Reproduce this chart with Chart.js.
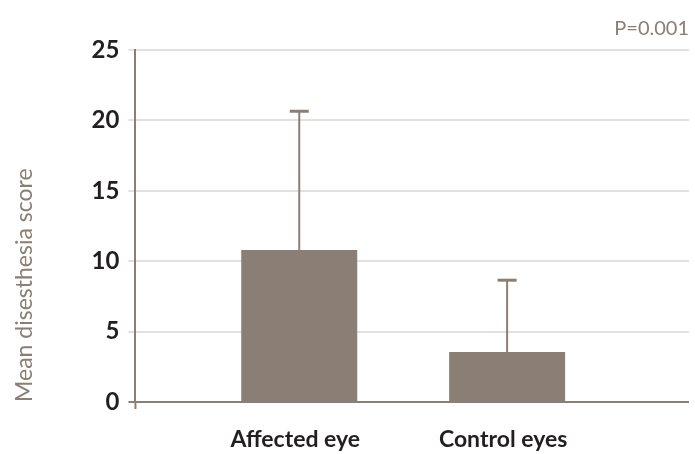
<!DOCTYPE html>
<html>
<head>
<meta charset="utf-8">
<script src="https://cdn.jsdelivr.net/npm/chart.js@4"></script>
<style>
  body { margin: 0; background: #fff; }
  #wrap { width: 695px; height: 454px; }
</style>
</head>
<body>
<div id="wrap"><canvas id="scoreChart"></canvas></div>
<script>
// data
const categories = ['Affected eye', 'Control eyes'];
const meanScores = [10.8, 3.55];
const sdUpper = [9.85, 5.1];
const yTicks = [0, 5, 10, 15, 20, 25];

const brown = '#8b7e74';
const gridGrey = '#e4e0dd';
const textDark = '#231f20';

// draws the one-sided error bars on top of each bar
const errorBars = {
    id: 'errorBars',
    afterDatasetsDraw(chart) {
        const ctx = chart.ctx;
        const yScale = chart.scales.y;
        const meta = chart.getDatasetMeta(0);
        ctx.save();
        ctx.strokeStyle = brown;
        meta.data.forEach((bar, i) => {
            const top = yScale.getPixelForValue(meanScores[i] + sdUpper[i]);
            ctx.lineWidth = 2;
            ctx.beginPath();
            ctx.moveTo(bar.x, bar.y);
            ctx.lineTo(bar.x, top);
            ctx.stroke();
            ctx.lineWidth = 3;
            ctx.beginPath();
            ctx.moveTo(bar.x - 9.5, top);
            ctx.lineTo(bar.x + 9.5, top);
            ctx.stroke();
        });
        // little stub of the y axis below zero
        const area = chart.chartArea;
        ctx.lineWidth = 2;
        ctx.beginPath();
        ctx.moveTo(area.left, area.bottom);
        ctx.lineTo(area.left, area.bottom + 7);
        ctx.stroke();
        ctx.restore();
    }
};

const ctx = document.getElementById('scoreChart').getContext('2d');
new Chart(ctx, {
    type: 'bar',
    data: {
        datasets: [{
            data: categories.map((c, i) => ({ x: i + 1, y: meanScores[i] })),
            backgroundColor: brown,
            borderWidth: 0,
            categoryPercentage: 1,
            barPercentage: 0.558
        }]
    },
    options: {
        responsive: true,
        maintainAspectRatio: false,
        animation: false,
        layout: {
            padding: { left: 11, right: 6, bottom: 0 }
        },
        plugins: {
            legend: { display: false },
            tooltip: { enabled: false },
            title: {
                display: true,
                text: 'P=0.001',
                align: 'end',
                color: brown,
                font: { family: 'Lato', size: 20, weight: 'normal' },
                padding: { top: 17, bottom: 9 }
            }
        },
        scales: {
            x: {
                type: 'linear',
                offset: false,
                min: 0.212,
                max: 2.875,
                afterBuildTicks: axis => {
                    axis.ticks = categories.map((c, i) => ({ value: i + 1 }));
                },
                afterFit: axis => {
                    axis.height = 52;
                },
                grid: { display: false, offset: false },
                border: { display: false },
                ticks: {
                    callback: v => categories[v - 1],
                    color: textDark,
                    font: { family: 'Lato', size: 23, weight: 'bold' },
                    padding: 16,
                    labelOffset: -4,
                    maxRotation: 0,
                    autoSkip: false
                }
            },
            y: {
                min: 0,
                max: 25,
                afterBuildTicks: axis => {
                    axis.ticks = yTicks.map(v => ({ value: v }));
                },
                grid: {
                    color: c => c.tick.value === 0 ? brown : gridGrey,
                    lineWidth: 2,
                    tickLength: 7
                },
                border: { display: true, color: brown, width: 2 },
                ticks: {
                    color: textDark,
                    font: { family: 'Lato', size: 24, weight: 'bold' },
                    padding: 9
                },
                title: {
                    display: true,
                    text: 'Mean disesthesia score',
                    align: 'start',
                    color: brown,
                    font: { family: 'Lato', size: 23 },
                    padding: { top: 0, bottom: 44 }
                }
            }
        }
    },
    plugins: [errorBars]
});
</script>
</body>
</html>
